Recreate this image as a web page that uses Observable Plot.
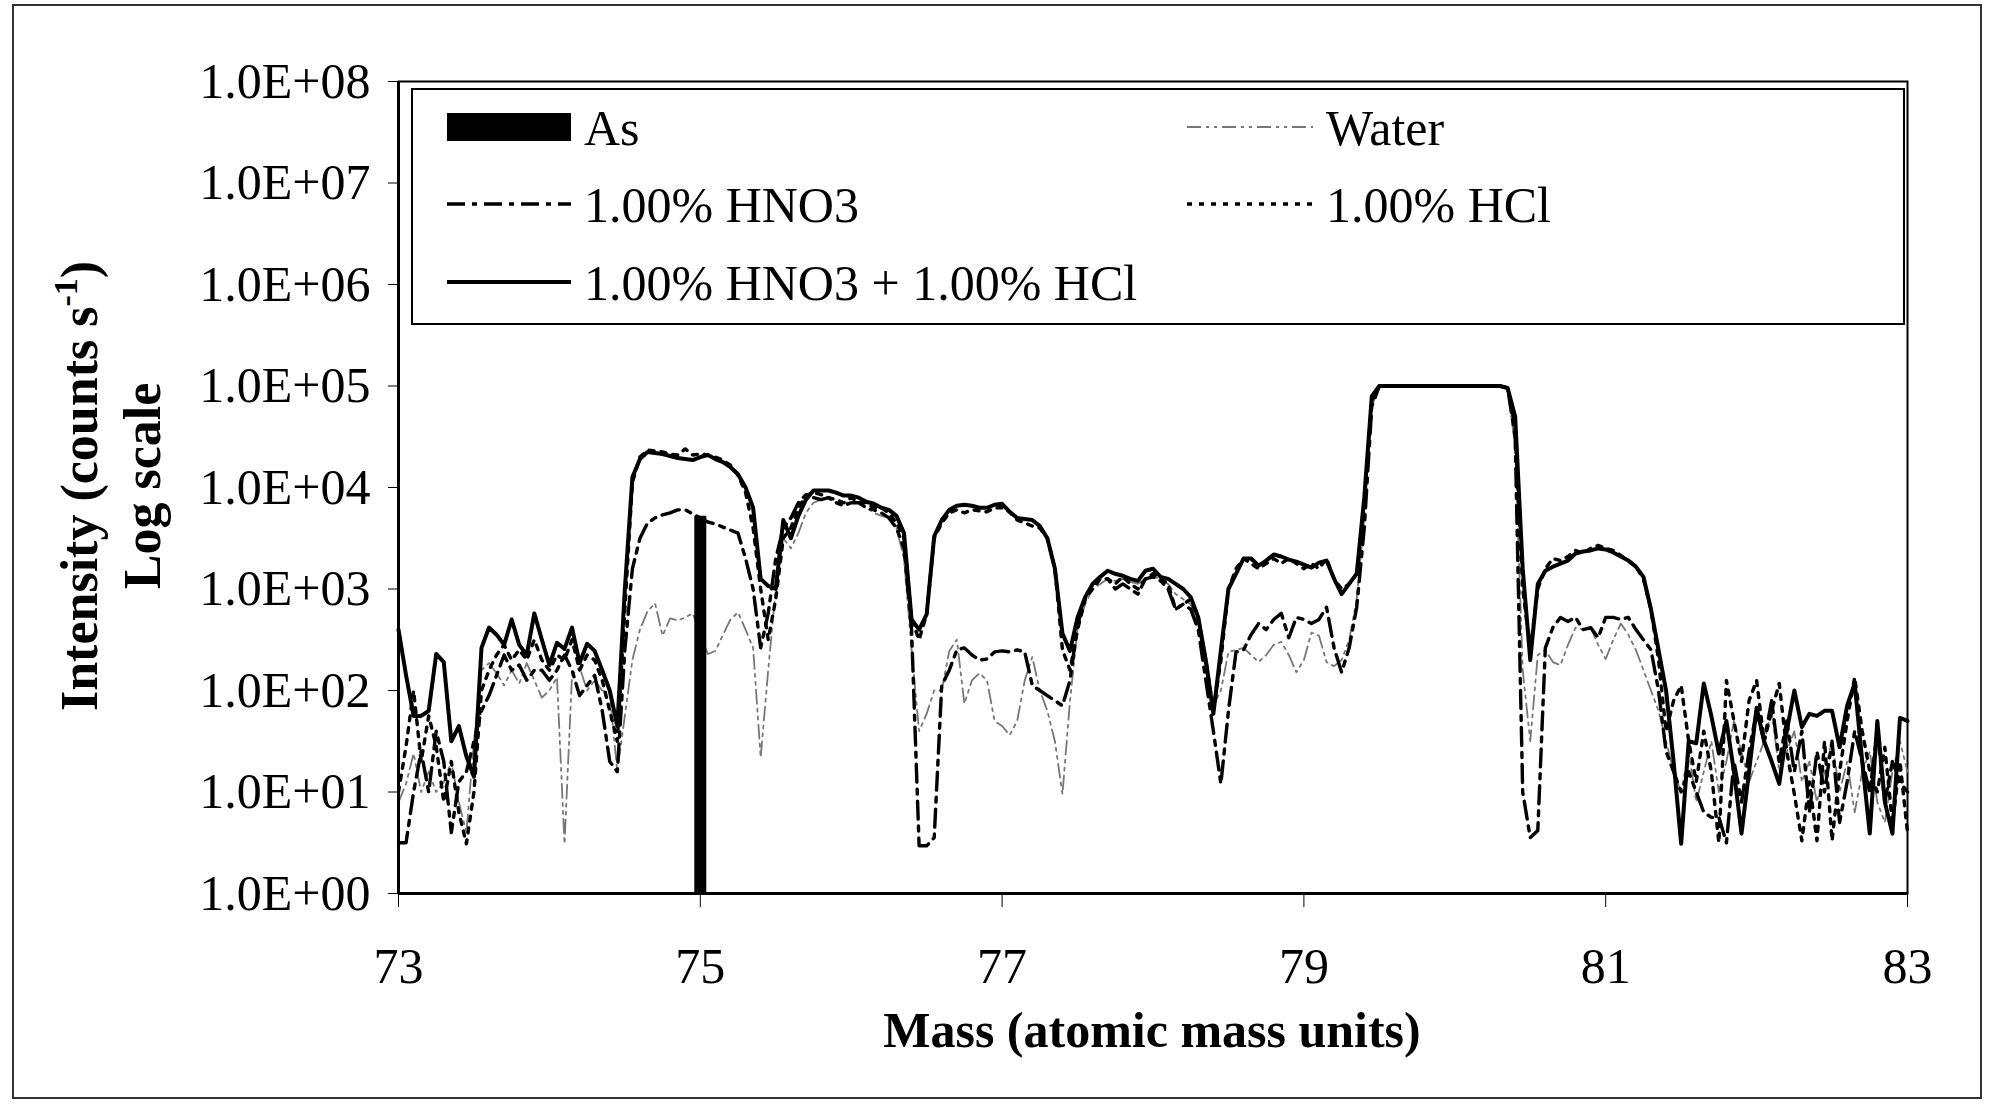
<!DOCTYPE html>
<html><head><meta charset="utf-8">
<script src="https://cdn.jsdelivr.net/npm/d3@7"></script>
<script src="https://cdn.jsdelivr.net/npm/@observablehq/plot@0.6"></script>
<style>html,body{margin:0;padding:0;background:#fff;} #chart{width:1990px;height:1104px;}</style>
</head><body><div id="chart"></div>
<script>
// Mass scan grid: 73.00 to 83.00 amu, 0.05 amu steps
const massStart = 73, massStep = 0.05;

// Intensities, stored as log10(counts s^-1), one value per 0.05 amu
const mixLog = [
  2.6, 2.15, 1.75, 1.75, 1.8, 2.36, 2.28, 1.5, 1.65, 1.35, 1.15, 2.42, 2.62, 2.55, 2.45, 2.7, 2.45, 2.35, 2.76, 2.5,
  2.25, 2.47, 2.41, 2.62, 2.27, 2.46, 2.39, 2.2, 2.0, 1.65, 3.0, 4.1, 4.28, 4.35, 4.34, 4.33, 4.31, 4.29, 4.28, 4.27,
  4.3, 4.32, 4.28, 4.25, 4.2, 4.13, 4.0, 3.8, 3.1, 3.03, 3.0, 3.68, 3.5, 3.72, 3.88, 3.97, 3.97, 3.97, 3.95, 3.92,
  3.92, 3.9, 3.86, 3.84, 3.8, 3.78, 3.72, 3.55, 2.7, 2.6, 2.75, 3.52, 3.68, 3.78, 3.82, 3.83, 3.82, 3.8, 3.8, 3.83,
  3.84, 3.76, 3.7, 3.69, 3.68, 3.62, 3.5, 3.2, 2.56, 2.39, 2.72, 2.92, 3.05, 3.12, 3.18, 3.15, 3.13, 3.1, 3.08, 3.18,
  3.2, 3.12, 3.1, 3.05, 3.0, 2.92, 2.72, 2.3, 1.77, 2.4, 3.0, 3.15, 3.3, 3.3, 3.23, 3.28, 3.34, 3.32, 3.29, 3.27,
  3.24, 3.21, 3.26, 3.28, 3.1, 2.95, 3.05, 3.15, 3.9, 4.9, 5, 5, 5, 5, 5, 5, 5, 5, 5, 5,
  5, 5, 5, 5, 5, 5, 5, 4.98, 4.7, 3.2, 2.3, 3.05, 3.18, 3.22, 3.25, 3.28, 3.35, 3.37, 3.38, 3.4,
  3.39, 3.36, 3.32, 3.28, 3.22, 3.12, 2.8, 2.4, 2.0, 1.3, 0.49, 1.5, 1.48, 2.07, 1.75, 1.38, 1.7, 1.2, 0.59, 1.2,
  1.83, 1.5, 1.3, 1.08, 1.6, 2.0, 1.64, 1.77, 1.75, 1.8, 1.8, 1.44, 1.85, 2.07, 1.3, 0.59, 1.7, 0.9, 0.59, 1.73,
  1.7
];
const hno3Log = [
  0.5, 0.5, 1.0, 1.4, 1.0, 1.6, 1.3, 0.6, 1.1, 1.2, 1.5, 1.8, 1.95, 2.15, 2.35, 2.2, 2.25, 2.1, 2.2, 2.2,
  2.1, 2.2, 2.35, 2.2, 1.95, 2.05, 2.15, 1.8, 1.3, 1.2, 2.4, 3.2, 3.5, 3.65, 3.7, 3.73, 3.75, 3.78, 3.78, 3.74,
  3.7, 3.66, 3.64, 3.61, 3.58, 3.55, 3.3, 3.0, 2.42, 2.76, 3.3, 3.6, 3.7, 3.85, 3.93, 3.9, 3.88, 3.9, 3.85, 3.82,
  3.85, 3.85, 3.8, 3.78, 3.75, 3.7, 3.6, 3.4, 2.6, 0.47, 0.47, 0.55, 2.05, 2.2, 2.4, 2.42, 2.35, 2.3, 2.31, 2.38,
  2.39, 2.38, 2.4, 2.38, 2.05, 2.0, 1.95, 1.9, 1.85, 2.1, 2.65, 2.9, 3.05, 3.1, 3.1, 3.0, 3.05, 3.0, 2.95, 3.1,
  3.12, 3.08, 3.0, 2.8, 2.85, 2.8, 2.6, 2.1, 1.6, 1.08, 1.8, 2.38, 2.4, 2.55, 2.66, 2.6, 2.7, 2.76, 2.52, 2.72,
  2.7, 2.66, 2.7, 2.82, 2.42, 2.18, 2.42, 2.82, 3.6, 4.8, 5, 5, 5, 5, 5, 5, 5, 5, 5, 5,
  5, 5, 5, 5, 5, 5, 5, 4.98, 4.5, 1.0, 0.55, 0.62, 2.42, 2.62, 2.72, 2.68, 2.72, 2.6, 2.62, 2.52,
  2.72, 2.72, 2.7, 2.72, 2.6, 2.5, 2.4, 2.0, 1.4, 1.2, 1.0, 1.2, 1.0, 0.8, 0.75, 0.75, 0.5, 1.3, 0.9, 1.4,
  1.8, 1.5, 1.9, 1.3, 1.7, 1.2, 1.6, 0.8, 1.4, 1.0, 1.5, 0.7, 1.1, 1.6, 1.3, 1.0, 1.6, 0.9, 1.3, 1.1,
  1.0
];
const hclLog = [
  1.0, 1.45, 2.0, 1.3, 1.75, 1.45, 0.9, 1.3, 0.8, 0.49, 1.0, 2.0, 2.2, 2.35, 2.45, 2.3, 2.4, 2.3, 2.5, 2.3,
  2.2, 2.35, 2.3, 2.5, 2.2, 2.35, 2.3, 2.1, 1.8, 1.5, 2.8, 4.05, 4.3, 4.37, 4.36, 4.35, 4.33, 4.32, 4.38, 4.32,
  4.33, 4.32, 4.3, 4.27, 4.22, 4.12, 3.95, 3.6, 3.0, 2.5, 2.9, 3.5, 3.6, 3.8, 3.92, 3.95, 3.93, 3.9, 3.88, 3.85,
  3.9, 3.85, 3.85, 3.8, 3.8, 3.75, 3.65, 3.5, 2.7, 2.5, 2.75, 3.5, 3.65, 3.75, 3.78, 3.75, 3.78, 3.77, 3.76, 3.8,
  3.8, 3.76, 3.68, 3.65, 3.62, 3.6, 3.5, 3.2, 2.4, 2.2, 2.6, 2.9, 3.0, 3.1, 3.1, 3.05, 3.12, 3.05, 3.0, 3.1,
  3.15, 3.1, 3.05, 2.8, 2.85, 2.9, 2.7, 2.3, 1.8, 2.3, 3.0, 3.2, 3.3, 3.25, 3.2, 3.25, 3.3, 3.25, 3.3, 3.25,
  3.2, 3.25, 3.2, 3.3, 3.1, 3.0, 3.05, 3.15, 3.85, 4.85, 5, 5, 5, 5, 5, 5, 5, 5, 5, 5,
  5, 5, 5, 5, 5, 5, 5, 4.98, 4.6, 3.0, 2.4, 3.0, 3.2, 3.3, 3.28, 3.32, 3.38, 3.35, 3.4, 3.43,
  3.4, 3.38, 3.33, 3.28, 3.22, 3.1, 2.8, 2.3, 1.6, 1.9, 2.05, 1.5, 1.1, 1.6, 1.2, 0.5, 2.1, 1.7, 1.3, 1.9,
  2.1, 1.5, 1.8, 2.07, 1.4, 0.98, 0.52, 1.1, 0.52, 1.5, 0.52, 1.2, 1.7, 2.13, 1.6, 1.2, 1.0, 1.44, 0.69, 1.3,
  0.6
];
const waterLog = [
  0.9, 1.08, 1.38, 1.0, 1.2, 1.0, 1.1, 1.3, 0.9, 0.6, 1.5, 2.2, 2.27, 2.17, 2.05, 2.2, 2.07, 2.27, 2.1, 1.93,
  2.0, 2.13, 0.49, 2.15, 2.23, 2.0, 2.1, 2.0, 1.97, 1.2, 1.75, 2.3, 2.6, 2.78, 2.86, 2.54, 2.71, 2.69, 2.72, 2.76,
  2.55, 2.36, 2.39, 2.55, 2.7, 2.77, 2.6, 2.42, 1.34, 2.2, 3.0, 3.5, 3.4, 3.55, 3.75, 3.85, 3.88, 3.9, 3.85, 3.85,
  3.85, 3.85, 3.8, 3.75, 3.72, 3.7, 3.6, 3.3, 2.4, 1.6, 1.77, 2.0, 2.0, 2.39, 2.5, 1.87, 2.1, 2.17, 2.1, 1.7,
  1.65, 1.56, 1.7, 2.1, 2.33, 2.0, 1.8, 1.5, 0.98, 1.9, 2.6, 2.85, 3.0, 3.05, 3.1, 3.08, 3.1, 3.07, 3.05, 3.1,
  3.12, 3.1, 3.05, 2.95, 2.9, 2.85, 2.65, 2.2, 1.85, 2.0, 2.38, 2.4, 2.42, 2.35, 2.28, 2.35, 2.45, 2.48, 2.35, 2.18,
  2.3, 2.57, 2.54, 2.28, 2.24, 2.3, 2.5, 2.9, 3.7, 4.8, 5, 5, 5, 5, 5, 5, 5, 5, 5, 5,
  5, 5, 5, 5, 5, 5, 5, 4.98, 4.4, 2.2, 1.5, 2.35, 2.4, 2.28, 2.25, 2.45, 2.62, 2.6, 2.62, 2.45,
  2.31, 2.5, 2.66, 2.55, 2.4, 2.2, 2.0, 1.8, 1.5, 1.2, 1.0, 1.4, 0.9, 1.2, 1.5, 1.0, 1.3, 1.7, 1.4, 1.1,
  1.3, 1.5, 1.8, 1.2, 1.4, 1.6, 1.1, 1.3, 0.9, 1.2, 1.5, 1.0, 1.3, 0.8, 1.2, 1.4, 0.9, 0.7, 1.2, 1.5,
  1.2
];

// Arsenic reference bar
const asMass = [75];
const asCounts = [5200];

// Axis ticks and text
const xTicks = [73, 75, 77, 79, 81, 83];
const yTicks = [1, 1e1, 1e2, 1e3, 1e4, 1e5, 1e6, 1e7, 1e8];
const seriesNames = ["As", "Water", "1.00% HNO3", "1.00% HCl", "1.00% HNO3 + 1.00% HCl"];
const xTitle = "Mass (atomic mass units)";
const yTitle1 = "Intensity (counts s";
const yTitle2 = "Log scale";

const mass = mixLog.map((_, i) => +(massStart + i * massStep).toFixed(2));
const toRows = logs => logs.map((v, i) => ({mass: mass[i], counts: Math.pow(10, v)}));
const asRows = asMass.map((m, i) => ({mass: m, counts: asCounts[i]}));

const styles = {
  water: {stroke: "#777", strokeWidth: 1.8, strokeDasharray: "14,5,3,5,3,5"},
  hno3: {stroke: "#000", strokeWidth: 3.4, strokeDasharray: "18,7,5,7"},
  hcl: {stroke: "#000", strokeWidth: 3.4, strokeDasharray: "5,7"},
  mix: {stroke: "#000", strokeWidth: 4}
};
const fontFam = "'Liberation Serif', 'Times New Roman', serif";

const svg = Plot.plot({
  width: 1990, height: 1104,
  marginLeft: 398, marginRight: 83, marginTop: 81, marginBottom: 211,
  style: {fontFamily: fontFam, fontSize: "50px", background: "#fff", color: "#000"},
  x: {domain: [73, 83], ticks: xTicks, tickSize: 14, tickPadding: 40, label: null, tickFormat: d => String(d)},
  y: {type: "log", domain: [1, 1e8], ticks: yTicks, tickSize: 10, tickPadding: 18, label: null,
      tickFormat: d => "1.0E+" + String(Math.round(Math.log10(d))).padStart(2, "0")},
  marks: [
    Plot.frame({stroke: "#000", strokeWidth: 2}),
    Plot.line(toRows(waterLog), {x: "mass", y: "counts", ...styles.water, strokeLinejoin: "round"}),
    Plot.line(toRows(hclLog), {x: "mass", y: "counts", ...styles.hcl, strokeLinejoin: "round"}),
    Plot.line(toRows(hno3Log), {x: "mass", y: "counts", ...styles.hno3, strokeLinejoin: "round"}),
    Plot.line(toRows(mixLog), {x: "mass", y: "counts", ...styles.mix, strokeLinejoin: "round"}),
    Plot.ruleX(asRows, {x: "mass", y1: 1, y2: "counts", stroke: "#000", strokeWidth: 12}),
    Plot.ruleX([73], {stroke: "#000", strokeWidth: 3}),
    Plot.ruleY([1], {stroke: "#000", strokeWidth: 3})
  ]
});
document.getElementById("chart").appendChild(svg);

const s = d3.select(svg);
// outer figure border
s.append("rect").attr("x", 13).attr("y", 5).attr("width", 1968).attr("height", 1093)
  .attr("fill", "none").attr("stroke", "#333").attr("stroke-width", 2);

// legend
const lg = s.append("g").attr("font-family", fontFam).attr("font-size", 50).attr("text-anchor", "start");
lg.append("rect").attr("x", 412).attr("y", 89).attr("width", 1492).attr("height", 235)
  .attr("fill", "#fff").attr("stroke", "#000").attr("stroke-width", 2);
const rowsY = [127, 204, 282];
const col = [{x1: 447, x2: 571, tx: 584}, {x1: 1187, x2: 1313, tx: 1326}];
const entries = [
  {name: seriesNames[0], c: 0, r: 0, swatch: true},
  {name: seriesNames[1], c: 1, r: 0, st: styles.water},
  {name: seriesNames[2], c: 0, r: 1, st: styles.hno3},
  {name: seriesNames[3], c: 1, r: 1, st: styles.hcl},
  {name: seriesNames[4], c: 0, r: 2, st: styles.mix}
];
entries.forEach(e => {
  const c = col[e.c], y = rowsY[e.r];
  if (e.swatch) {
    lg.append("rect").attr("x", c.x1).attr("y", y - 14).attr("width", c.x2 - c.x1).attr("height", 28).attr("fill", "#000");
  } else {
    lg.append("line").attr("x1", c.x1).attr("x2", c.x2).attr("y1", y).attr("y2", y)
      .attr("stroke", e.st.stroke).attr("stroke-width", e.st.strokeWidth)
      .attr("stroke-dasharray", e.st.strokeDasharray || null);
  }
  lg.append("text").attr("x", c.tx).attr("y", y).attr("dy", "0.35em").attr("text-anchor", "start").text(e.name);
});

// axis titles
s.append("text").attr("x", 1152).attr("y", 1047).attr("text-anchor", "middle")
  .attr("font-family", fontFam).attr("font-size", 50).attr("font-weight", "bold").text(xTitle);
const yt = s.append("text").attr("transform", "translate(97,486) rotate(-90)").attr("text-anchor", "middle")
  .attr("font-family", fontFam).attr("font-size", 52).attr("font-weight", "bold");
yt.append("tspan").text(yTitle1);
yt.append("tspan").attr("font-size", 34).attr("dy", -20).text("-1");
yt.append("tspan").attr("dy", 20).text(")");
s.append("text").attr("transform", "translate(160,486) rotate(-90)").attr("text-anchor", "middle")
  .attr("font-family", fontFam).attr("font-size", 52).attr("font-weight", "bold").text(yTitle2);
</script>
</body></html>
